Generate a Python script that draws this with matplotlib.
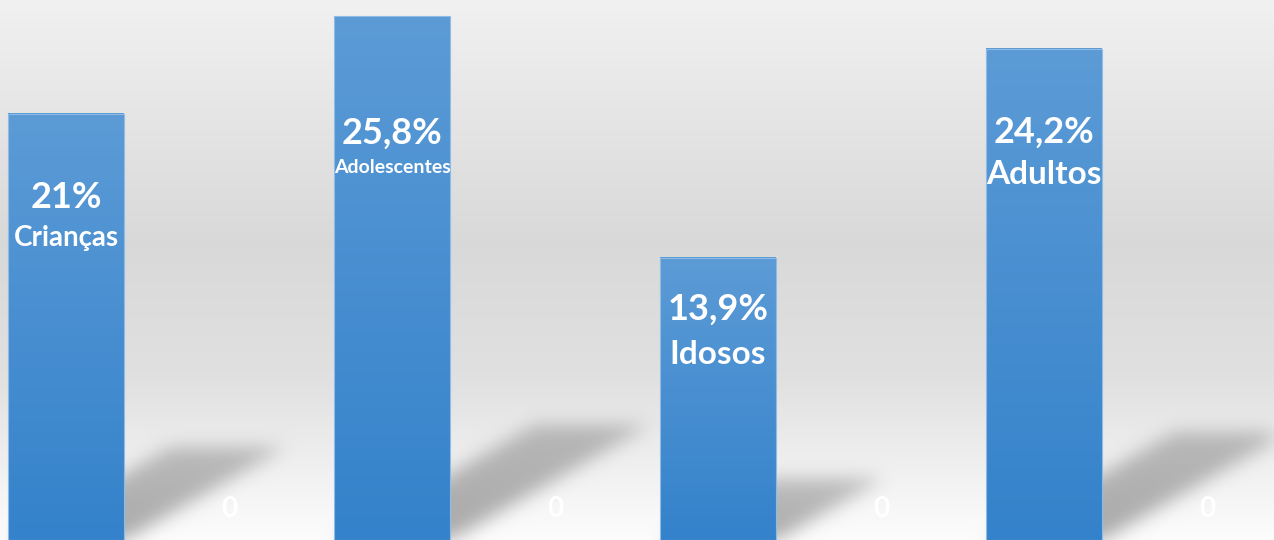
import numpy as np
import matplotlib
matplotlib.use('Agg')
import matplotlib.pyplot as plt
from matplotlib.colors import LinearSegmentedColormap

# dados
categorias = ['Crianças', 'Adolescentes', 'Idosos', 'Adultos']
valores = [21, 25.8, 13.9, 24.2]
rotulos = ['21%', '25,8%', '13,9%', '24,2%']
serie2 = [0, 0, 0, 0]

# estilo dos rotulos (deslocamento abaixo do topo, em unidades do eixo)
desl_pct = [4.15, 5.75, 2.55, 4.1]
desl_cat = [6.1, 7.45, 4.75, 6.2]
tam_cat = [20, 14, 24, 24]

W, H = 1274, 540
fig = plt.figure(figsize=(W / 100, H / 100), dpi=100)
ax = fig.add_axes([0, 0, 1, 1])
ax.axis('off')
xmin, xmax = -0.2025, 3.7055
ymin, ymax = 0, 26.6
ax.set_xlim(xmin, xmax)
ax.set_ylim(ymin, ymax)

x = np.arange(len(categorias))
larg = 0.353

# fundo em degrade
t = np.linspace(0, 1, H)
pts = [0, 0.45, 0.7, 1]
cores = [0.945, 0.85, 0.88, 0.99]
col = np.interp(t, pts, cores)
fundo = np.repeat(col[:, None], W, axis=1)
fundo = np.dstack([fundo, fundo, fundo])

# sombras em perspectiva, calculadas a partir das barras
def px(xd, yd):
    return (xd - xmin) / (xmax - xmin) * W, (ymax - yd) / (ymax - ymin) * H

mask = np.zeros((H, W))
yy, xx = np.mgrid[0:H, 0:W]
for xi, v in zip(x, valores):
    x0, yb = px(xi - larg / 2, 0)
    x1, _ = px(xi + larg / 2, 0)
    _, yt = px(xi, v)
    h = yb - yt
    dx, dy = 0.38 * h, 0.22 * h
    s = (yb - yy) / dy
    inside = (s >= 0) & (s <= 1)
    xl = x0 + s * dx
    xr = x1 + s * dx
    inside &= (xx >= xl) & (xx <= xr)
    fade = 1 - 0.35 * np.clip(s, 0, 1)
    mask = np.maximum(mask, np.where(inside, fade, 0))

def blur(a, sig):
    r = int(3 * sig)
    k = np.exp(-0.5 * (np.arange(-r, r + 1) / sig) ** 2)
    k /= k.sum()
    a = np.apply_along_axis(lambda m: np.convolve(m, k, mode='same'), 0, a)
    a = np.apply_along_axis(lambda m: np.convolve(m, k, mode='same'), 1, a)
    return a

mask = blur(mask, 9)
fundo = fundo * (1 - 0.33 * mask[:, :, None])
ax.imshow(fundo, extent=(xmin, xmax, ymin, ymax), aspect='auto', zorder=0,
          interpolation='bilinear')

# barras com degrade azul
cmap = LinearSegmentedColormap.from_list('azul', ['#3482cb', '#5c9bd6'])
barras = ax.bar(x, valores, width=larg, color='none', edgecolor='#8fbce6',
                linewidth=0.8, zorder=3)
grad = np.linspace(0, 1, 256)[:, None]
for b in barras:
    bx, by = b.get_x(), b.get_y()
    ax.imshow(grad, extent=(bx, bx + b.get_width(), by, by + b.get_height()),
              origin='lower', cmap=cmap, aspect='auto', zorder=2,
              interpolation='bilinear')
ax.set_xlim(xmin, xmax)
ax.set_ylim(ymin, ymax)

# segunda serie (zeros)
ax.bar(x + 0.5, serie2, width=larg, color='none', zorder=3)

fonte = ['Lato', 'DejaVu Sans']
for xi, v, r, c, dp, dc, tc in zip(x, valores, rotulos, categorias,
                                   desl_pct, desl_cat, tam_cat):
    ax.text(xi, v - dp, r, ha='center', va='center', color='white',
            fontsize=26, fontweight='bold', family=fonte, zorder=4)
    ax.text(xi, v - dc, c, ha='center', va='center', color='white',
            fontsize=tc, fontweight='bold', family=fonte, zorder=4)

for xi, v in zip(x + 0.5, serie2):
    ax.text(xi, v + 1.55, str(v), ha='center', va='center', color='white',
            fontsize=20, fontweight='bold', family=fonte, zorder=4)

fig.savefig('out.png', dpi=100)
